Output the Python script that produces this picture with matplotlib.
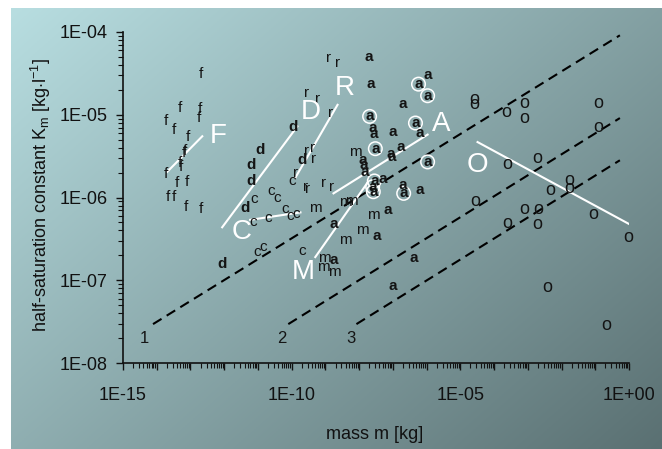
import numpy as np
import matplotlib.pyplot as plt
from matplotlib.ticker import FixedLocator, NullFormatter, FuncFormatter

plt.rcParams['font.family'] = ['Liberation Sans', 'DejaVu Sans']
plt.rcParams['mathtext.fontset'] = 'custom'
plt.rcParams['mathtext.rm'] = 'Liberation Sans'

# values, stored as log10(mass kg), log10(Km kg/l)
f_logm = [-12.68, -13.31, -12.71, -12.74, -13.72, -13.49, -13.07, -13.16, -13.19,
          -13.31, -13.28, -13.72, -13.40, -13.10, -13.66, -13.49, -13.13, -12.68]
f_logk = [-4.51, -4.92, -4.93, -5.04, -5.08, -5.18, -5.27, -5.44, -5.46,
          -5.58, -5.63, -5.72, -5.82, -5.81, -5.99, -5.99, -6.11, -6.14]

d_logm = [-9.95, -10.93, -11.20, -11.20, -11.38, -9.68, -12.06]
d_logk = [-5.15, -5.43, -5.61, -5.80, -6.13, -5.55, -6.80]

c_logm = [-11.11, -10.60, -10.43, -11.14, -10.69, -10.19, -10.04, -9.86, -11.02, -10.84, -9.98, -9.68]
c_logk = [-6.02, -5.92, -6.01, -6.30, -6.25, -6.14, -6.22, -6.20, -6.66, -6.60, -5.80, -6.65]

r_logm = [-8.91, -8.64, -9.57, -9.24, -8.85, -9.57, -9.39, -9.36, -9.89, -9.60, -9.54, -9.06, -8.82]
r_logk = [-4.31, -4.37, -4.74, -4.81, -4.98, -5.44, -5.40, -5.53, -5.70, -5.87, -5.90, -5.82, -5.87]

m_logm = [-8.11, -9.30, -8.41, -8.23, -7.58, -7.90, -8.41, -9.03, -9.06, -8.73]
m_logk = [-5.45, -6.13, -6.05, -6.04, -6.21, -6.39, -6.51, -6.73, -6.84, -6.90]

a_logm = [-7.72, -7.66, -6.24, -5.97, -5.97, -6.71, -7.69, -7.60, -7.58, -7.01, -6.33,
          -6.21, -7.52, -7.07, -7.04, -6.77, -5.97, -7.90, -7.87, -7.84, -7.55, -7.60,
          -7.58, -7.31, -6.71, -6.68, -6.21, -7.16, -8.76, -7.49, -8.76, -6.39, -7.01]
a_logk = [-4.30, -4.63, -4.63, -4.52, -4.77, -4.87, -5.02, -5.16, -5.23, -5.21, -5.10,
          -5.22, -5.41, -5.47, -5.51, -5.39, -5.57, -5.55, -5.61, -5.69, -5.80, -5.87,
          -5.93, -5.78, -5.85, -5.95, -5.91, -6.15, -6.32, -6.47, -6.76, -6.73, -7.07]
a_circled = [2, 4, 6, 10, 12, 16, 20, 21, 22, 25]

o_logm = [-4.58, -4.58, -3.65, -3.12, -3.12, -0.92, -0.92, -3.62, -2.73, -1.78, -1.78,
          -2.32, -4.55, -3.12, -2.70, -3.62, -2.73, -1.07, -0.03, -2.41, -0.68]
o_logk = [-4.82, -4.88, -4.97, -4.87, -5.05, -4.86, -5.15, -5.60, -5.53, -5.80, -5.89,
          -5.92, -6.05, -6.14, -6.14, -6.31, -6.33, -6.20, -6.48, -7.09, -7.55]

# white regression lines per group: (logm start, logm end), (logk start, logk end)
fit_names = ['F', 'D', 'C', 'R', 'M', 'A', 'O']
fit_logm = [(-13.69, -12.65), (-12.06, -9.83), (-11.23, -9.74), (-9.89, -8.64),
            (-9.30, -7.75), (-8.76, -5.97), (-4.49, 0.0)]
fit_logk = [(-5.69, -5.26), (-6.36, -5.14), (-6.27, -6.18), (-5.76, -4.88),
            (-6.72, -5.82), (-5.95, -5.24), (-5.33, -6.32)]
fit_label_logm = [-12.18, -9.42, -11.47, -8.44, -9.65, -5.56, -4.49]
fit_label_logk = [-5.26, -4.97, -6.42, -4.68, -6.90, -5.11, -5.61]

# dashed reference lines 1, 2, 3
ref_names = ['1', '2', '3']
ref_logm = [(-14.11, -0.27), (-10.10, -0.27), (-8.08, -0.27)]
ref_logk = [(-7.53, -4.04), (-7.53, -5.04), (-7.53, -5.55)]
ref_label_logm = [-14.38, -10.28, -8.23]
ref_label_logk = [-7.70, -7.70, -7.70]

fig = plt.figure(figsize=(6.62, 4.49), dpi=100)

# gradient background panel
bg = fig.add_axes([11 / 662, 0, 1 - 11 / 662, 1 - 8 / 449])
h, w = 200, 300
yy, xx = np.mgrid[0:1:h * 1j, 0:1:w * 1j]
t = (xx * 1.3 + yy) / 2.3
tl = np.array([184, 222, 225]) / 255
br = np.array([90, 112, 114]) / 255
img = tl[None, None, :] * (1 - t[..., None]) + br[None, None, :] * t[..., None]
bg.imshow(img, extent=[0, 1, 0, 1], aspect='auto')
bg.axis('off')
bg.set_zorder(0)

ax = fig.add_axes([123 / 662, 1 - 363 / 449, 506 / 662, 331 / 449])
ax.set_zorder(1)
ax.patch.set_alpha(0)
ax.set_xscale('log')
ax.set_yscale('log')
ax.set_xlim(1e-15, 1e0)
ax.set_ylim(1e-8, 1e-4)

for s in ['top', 'right']:
    ax.spines[s].set_visible(False)
for s in ['left', 'bottom']:
    ax.spines[s].set_linewidth(1.2)
    ax.spines[s].set_color('#111111')

# dashed lines
for name, lm, lk, xl, yl in zip(ref_names, ref_logm, ref_logk, ref_label_logm, ref_label_logk):
    ax.plot(10 ** np.array(lm), 10 ** np.array(lk), color='black', lw=1.5,
            ls=(0, (4.8, 2.9)), zorder=2)
    ax.text(10 ** xl, 10 ** yl, name, ha='center', va='center', fontsize=12, color='#151515')

# white fit lines with big labels
for name, lm, lk, xl, yl in zip(fit_names, fit_logm, fit_logk, fit_label_logm, fit_label_logk):
    ax.plot(10 ** np.array(lm), 10 ** np.array(lk), color='white', lw=1.5, zorder=3)
    ax.text(10 ** xl, 10 ** yl, name, ha='center', va='center', fontsize=20, color='white', zorder=5)

# circles around some 'a' points
ax.scatter([10 ** a_logm[i] for i in a_circled], [10 ** a_logk[i] for i in a_circled],
           s=95, facecolors='none', edgecolors='white', linewidths=1.1, zorder=3)

groups = [('f', f_logm, f_logk, 'normal', 11), ('d', d_logm, d_logk, 'bold', 11),
          ('c', c_logm, c_logk, 'normal', 11), ('r', r_logm, r_logk, 'normal', 11),
          ('m', m_logm, m_logk, 'normal', 11), ('a', a_logm, a_logk, 'bold', 11),
          ('o', o_logm, o_logk, 'normal', 13)]
for letter, lm, lk, wt, fs in groups:
    for xm, yk in zip(lm, lk):
        ax.text(10 ** xm, 10 ** yk, letter, ha='center', va='center', fontsize=fs,
                fontweight=wt, color='#141414', zorder=4, clip_on=False)

# ticks
ax.xaxis.set_major_locator(FixedLocator([10.0 ** e for e in range(-15, 1)]))
ax.xaxis.set_minor_locator(FixedLocator([k * 10.0 ** e for e in range(-15, 0) for k in range(2, 10)]))
ax.xaxis.set_major_formatter(FuncFormatter(lambda v, p: f'{v:.0E}' if round(np.log10(v)) % 5 == 0 else ''))
ax.xaxis.set_minor_formatter(NullFormatter())
ax.yaxis.set_major_locator(FixedLocator([10.0 ** e for e in range(-8, -3)]))
ax.yaxis.set_minor_locator(FixedLocator([k * 10.0 ** e for e in range(-8, -4) for k in range(2, 10)]))
ax.yaxis.set_major_formatter(FuncFormatter(lambda v, p: f'{v:.0E}'))
ax.yaxis.set_minor_formatter(NullFormatter())
ax.tick_params(which='major', length=5, width=1, color='#111111', labelsize=13, labelcolor='#111111')
ax.tick_params(which='minor', length=3.5, width=0.8, color='#111111')
ax.tick_params(axis='x', which='major', pad=12)
ax.tick_params(axis='y', which='major', pad=6)

ax.set_xlabel('mass m [kg]', fontsize=13, color='#111111')
ax.set_ylabel(r'half-saturation constant K$_\mathrm{m}$ [kg$\cdot$l$^\mathrm{-1}$]', fontsize=13, color='#111111')
ax.xaxis.set_label_coords(0.498, -0.19)
ax.yaxis.set_label_coords(-0.138, 0.508)

fig.savefig('out.png', dpi=100)
